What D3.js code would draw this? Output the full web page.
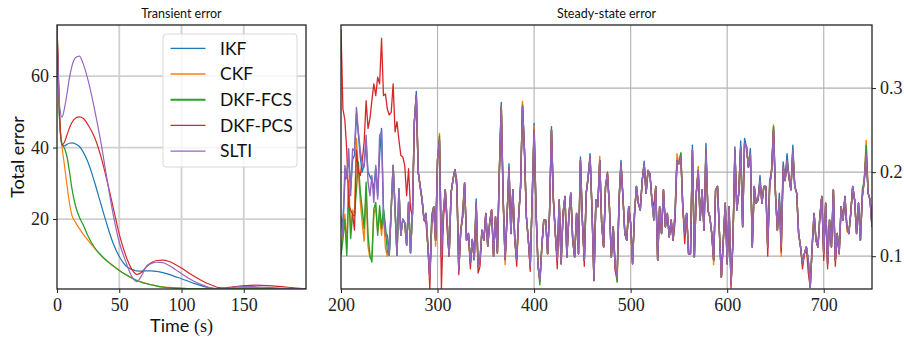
<!DOCTYPE html>
<html>
<head>
<meta charset="utf-8">
<script src="https://cdn.jsdelivr.net/npm/d3@7"></script>
<style>
  body { margin: 0; background: #fff; }
  svg { display: block; }
</style>
</head>
<body>
<svg id="chart" width="904" height="341"></svg>
<script>
const SANS = "Lato, 'DejaVu Sans', sans-serif";
const SERIF = "'Liberation Serif', 'DejaVu Serif', serif";

// ---- series ----
const seriesNames = ["IKF", "CKF", "DKF-FCS", "DKF-PCS", "SLTI"];
const seriesColors = ["#1f77b4", "#ff7f0e", "#2ca02c", "#d62728", "#9467bd"];

// ---- transient phase (0-200 s) ----
const transientTime = [0, 2, 4, 6, 8, 10, 12, 15, 18, 21, 25, 30, 35, 40, 45, 50, 55, 60,
  64, 68, 72, 76, 80, 85, 90, 95, 100, 105, 110, 115, 120, 125, 130, 135, 140, 145, 150,
  155, 160, 170, 180, 190, 200];
const transientIKF = [74.5, 48, 40.6, 40.5, 40.9, 41.2, 41.3, 41.0, 40.3, 38.8, 35.8, 30.5,
  24.5, 18.6, 13.3, 9.5, 7.0, 5.9, 5.5, 5.45, 5.5, 5.5, 5.35, 5.0, 4.5, 3.9, 3.3, 2.65, 2.0,
  1.45, 0.95, 0.6, 0.45, 0.45, 0.55, 0.65, 0.72, 0.75, 0.74, 0.65, 0.55, 0.46, 0.42];
const transientCKF = [74.5, 49, 40.5, 35.0, 29.5, 24.5, 21.0, 19.0, 17.3, 15.8, 14.0, 11.9,
  9.9, 8.3, 6.9, 5.6, 4.5, 3.5, 2.85, 2.35, 1.95, 1.6, 1.3, 1.0, 0.85, 0.72, 0.62, 0.55, 0.5,
  0.46, 0.44, 0.43, 0.42, 0.42, 0.42, 0.42, 0.42, 0.42, 0.42, 0.42, 0.42, 0.42, 0.42];
const transientFCS = [74.5, 49, 41.0, 39.8, 37.5, 33.3, 28.5, 23.5, 20.5, 18.4, 15.2, 12.1,
  10.0, 8.3, 6.9, 5.6, 4.5, 3.5, 2.8, 2.3, 1.9, 1.55, 1.25, 0.95, 0.8, 0.68, 0.6, 0.52, 0.48,
  0.45, 0.43, 0.42, 0.42, 0.42, 0.42, 0.42, 0.42, 0.42, 0.42, 0.42, 0.42, 0.42, 0.42];
const transientPCS = [74.5, 50, 40.8, 41.5, 43.5, 45.5, 47.0, 48.3, 48.6, 48.2, 46.3, 43.0,
  37.8, 31.0, 23.4, 15.8, 10.0, 6.0, 4.5, 5.1, 6.7, 7.8, 8.4, 8.5, 8.1, 7.3, 6.3, 5.1, 4.0,
  3.0, 2.1, 1.4, 0.8, 0.75, 0.95, 1.15, 1.35, 1.45, 1.5, 1.35, 1.1, 0.75, 0.45];
const transientSLTI = [74.5, 52, 48.5, 51.0, 55.0, 59.5, 62.8, 65.2, 65.6, 63.5, 58.8, 51.0,
  42.0, 31.5, 21.5, 13.5, 8.3, 4.0, 2.5, 4.2, 6.9, 7.6, 7.9, 7.8, 7.0, 5.9, 4.7, 3.6, 2.6,
  1.8, 1.1, 0.65, 0.45, 0.55, 0.8, 1.0, 1.1, 1.1, 1.05, 0.85, 0.6, 0.45, 0.42];

// ---- steady-state phase (200-750 s, one sample every 2 s) ----
const steadyStart = 200, steadyStep = 2;
const steadySLTI = [
  0.148, 0.125, 0.208, 0.192, 0.228, 0.172, 0.228, 0.225, 0.277, 0.248,
  0.225, 0.208, 0.206, 0.244, 0.188, 0.172, 0.196, 0.164, 0.208, 0.168,
  0.244, 0.248, 0.148, 0.125, 0.121, 0.101, 0.156, 0.208, 0.156, 0.101,
  0.180, 0.125, 0.144, 0.140, 0.113, 0.164, 0.104, 0.151, 0.260, 0.291,
  0.200, 0.183, 0.167, 0.143, 0.151, 0.112, 0.075, 0.140, 0.159, 0.119,
  0.215, 0.238, 0.100, 0.151, 0.179, 0.140, 0.100, 0.175, 0.191, 0.203,
  0.183, 0.084, 0.130, 0.147, 0.187, 0.119, 0.127, 0.092, 0.120, 0.096,
  0.163, 0.088, 0.096, 0.131, 0.119, 0.151, 0.112, 0.140, 0.155, 0.100,
  0.147, 0.104, 0.200, 0.278, 0.167, 0.096, 0.147, 0.205, 0.127, 0.179,
  0.120, 0.096, 0.147, 0.183, 0.278, 0.227, 0.147, 0.120, 0.088, 0.167,
  0.250, 0.155, 0.090, 0.071, 0.111, 0.143, 0.143, 0.103, 0.151, 0.250,
  0.167, 0.127, 0.095, 0.167, 0.091, 0.151, 0.171, 0.099, 0.147, 0.175,
  0.120, 0.099, 0.151, 0.103, 0.214, 0.143, 0.095, 0.175, 0.194, 0.218,
  0.155, 0.071, 0.167, 0.159, 0.214, 0.139, 0.111, 0.183, 0.198, 0.159,
  0.099, 0.135, 0.087, 0.075, 0.167, 0.210, 0.171, 0.127, 0.119, 0.159,
  0.139, 0.091, 0.150, 0.183, 0.163, 0.155, 0.190, 0.210, 0.175, 0.202,
  0.198, 0.167, 0.143, 0.183, 0.095, 0.159, 0.127, 0.179, 0.135, 0.151,
  0.123, 0.143, 0.119, 0.151, 0.214, 0.210, 0.218, 0.159, 0.127, 0.151,
  0.103, 0.103, 0.226, 0.099, 0.175, 0.202, 0.143, 0.179, 0.131, 0.226,
  0.155, 0.147, 0.127, 0.095, 0.179, 0.183, 0.127, 0.075, 0.119, 0.163,
  0.091, 0.159, 0.067, 0.119, 0.226, 0.155, 0.175, 0.230, 0.135, 0.234,
  0.230, 0.206, 0.222, 0.111, 0.183, 0.163, 0.167, 0.190, 0.163, 0.183,
  0.183, 0.111, 0.183, 0.202, 0.250, 0.175, 0.131, 0.167, 0.111, 0.206,
  0.190, 0.214, 0.194, 0.179, 0.226, 0.183, 0.175, 0.127, 0.111, 0.091,
  0.103, 0.111, 0.095, 0.063, 0.111, 0.151, 0.119, 0.111, 0.147, 0.171,
  0.103, 0.163, 0.091, 0.143, 0.111, 0.179, 0.095, 0.127, 0.103, 0.159,
  0.143, 0.171, 0.135, 0.127, 0.151, 0.183, 0.167, 0.127, 0.163, 0.119,
  0.171, 0.190, 0.222, 0.175, 0.167, 0.135
];
// Opening samples of the other filters (from 200 s), before they settle onto SLTI
const steadyEarlyIKF = [0.145, 0.14, 0.19, 0.2, 0.215, 0.18, 0.215, 0.22, 0.27, 0.245,
  0.218, 0.2, 0.21, 0.236, 0.2, 0.195, 0.19, 0.18, 0.205, 0.172, 0.22, 0.252, 0.155, 0.128,
  0.125, 0.105];
const steadyEarlyCKF = [0.105, 0.13, 0.15, 0.11, 0.19, 0.13, 0.155, 0.15, 0.24, 0.2, 0.165,
  0.14, 0.118, 0.175, 0.112, 0.098, 0.1, 0.15, 0.158, 0.13, 0.15, 0.125, 0.15, 0.11, 0.1,
  0.105];
const steadyEarlyFCS = [0.101, 0.12, 0.144, 0.101, 0.18, 0.121, 0.15, 0.148, 0.18, 0.212,
  0.176, 0.156, 0.133, 0.188, 0.125, 0.101, 0.093, 0.156, 0.164, 0.125, 0.16, 0.133, 0.156,
  0.137, 0.105, 0.101];
const steadyEarlyPCS = [0.37, 0.275, 0.262, 0.225, 0.16, 0.155, 0.15, 0.131, 0.226, 0.2,
  0.196, 0.214, 0.236, 0.285, 0.252, 0.264, 0.285, 0.305, 0.291, 0.313, 0.305, 0.359, 0.291,
  0.293, 0.275, 0.268, 0.271, 0.305, 0.248, 0.26, 0.238, 0.22, 0.218, 0.208, 0.172, 0.204,
  0.156, 0.148];
// Later samples (time -> value) where a filter departs from SLTI
const steadyIKFDiffs = {278: 0.296, 320: 0.19, 340: 0.168, 366: 0.283, 374: 0.21, 388: 0.281,
  400: 0.258, 418: 0.254, 448: 0.218, 458: 0.222, 490: 0.214, 514: 0.213, 552: 0.222,
  564: 0.232, 578: 0.234, 608: 0.23, 614: 0.237, 618: 0.24, 624: 0.228, 634: 0.196,
  644: 0.19, 648: 0.253, 654: 0.175, 656: 0.125, 658: 0.212, 662: 0.222, 668: 0.232,
  744: 0.226};
const steadyCKFDiffs = {298: 0.112, 302: 0.246, 326: 0.155, 370: 0.09, 388: 0.284, 400: 0.255,
  468: 0.219, 486: 0.071, 548: 0.222, 570: 0.207, 586: 0.09, 648: 0.256, 656: 0.1,
  724: 0.13, 744: 0.238};
const steadyFCSDiffs = {294: 0.15, 302: 0.243, 388: 0.279, 406: 0.066, 486: 0.069,
  552: 0.223, 648: 0.254, 740: 0.18, 744: 0.232};
const steadyPCSDiffs = {288: 0.14, 292: 0.061, 304: 0.061, 306: 0.14, 310: 0.13, 322: 0.078,
  334: 0.085, 342: 0.08, 344: 0.088, 382: 0.088, 396: 0.082, 424: 0.085, 452: 0.088,
  476: 0.2, 484: 0.082, 524: 0.16, 546: 0.14, 556: 0.115, 604: 0.062, 642: 0.1, 656: 0.105,
  678: 0.085, 684: 0.08, 700: 0.095, 704: 0.085, 712: 0.088};

// ---- tick labels ----
const transientXTicks = [0, 50, 100, 150];
const transientYTicks = [20, 40, 60];
const steadyXTicks = [200, 300, 400, 500, 600, 700];
const steadyYTicks = [0.1, 0.2, 0.3];

// ---- assemble records ----
const transientData = [transientIKF, transientCKF, transientFCS, transientPCS, transientSLTI]
  .map(vals => vals.map((v, i) => ({t: transientTime[i], v})));

function steadySeries(early, diffs) {
  return steadySLTI.map((base, i) => {
    const t = steadyStart + i * steadyStep;
    if (i < early.length) return {t, v: early[i]};
    if (diffs[t] !== undefined) return {t, v: diffs[t]};
    return {t, v: base};
  });
}
const steadyData = [
  steadySeries(steadyEarlyIKF, steadyIKFDiffs),
  steadySeries(steadyEarlyCKF, steadyCKFDiffs),
  steadySeries(steadyEarlyFCS, steadyFCSDiffs),
  steadySeries(steadyEarlyPCS, steadyPCSDiffs),
  steadySeries([], {})
];

// ---- layout ----
const svg = d3.select("#chart");
const L = {x0: 57, x1: 306, y0: 25, y1: 289};
const R = {x0: 341, x1: 872, y0: 25, y1: 289};

const xL = d3.scaleLinear().domain([0, 200]).range([L.x0, L.x1]);
const yL = d3.scaleLinear().domain([0.42, 74.3]).range([L.y1, L.y0]);
const xR = d3.scaleLinear().domain([200, 750]).range([R.x0, R.x1]);
const yR = d3.scaleLinear().domain([0.061, 0.375]).range([R.y1, R.y0]);

const defs = svg.append("defs");
defs.append("clipPath").attr("id", "clipL").append("rect")
  .attr("x", L.x0).attr("y", L.y0).attr("width", L.x1 - L.x0).attr("height", L.y1 - L.y0);
defs.append("clipPath").attr("id", "clipR").append("rect")
  .attr("x", R.x0).attr("y", R.y0).attr("width", R.x1 - R.x0).attr("height", R.y1 - R.y0);

// ---- grids ----
const gL = svg.append("g");
gL.selectAll("line.gx").data(transientXTicks.filter(d => d > 0)).join("line")
  .attr("x1", d => xL(d)).attr("x2", d => xL(d)).attr("y1", L.y0).attr("y2", L.y1)
  .attr("stroke", "#d0d0d0").attr("stroke-width", 1.8);
gL.selectAll("line.gy").data(transientYTicks).join("line")
  .attr("x1", L.x0).attr("x2", L.x1).attr("y1", d => yL(d)).attr("y2", d => yL(d))
  .attr("stroke", "#d0d0d0").attr("stroke-width", 1.8);

const gR = svg.append("g");
gR.selectAll("line.gx").data(steadyXTicks.filter(d => d > 200)).join("line")
  .attr("x1", d => xR(d)).attr("x2", d => xR(d)).attr("y1", R.y0).attr("y2", R.y1)
  .attr("stroke", "#b8b8b8").attr("stroke-width", 1.2);
gR.selectAll("line.gy").data(steadyYTicks).join("line")
  .attr("x1", R.x0).attr("x2", R.x1).attr("y1", d => yR(d)).attr("y2", d => yR(d))
  .attr("stroke", "#b0b0b0").attr("stroke-width", 1.2);

// ---- lines ----
const lineL = d3.line().x(d => xL(d.t)).y(d => yL(d.v)).curve(d3.curveMonotoneX);
const lineR = d3.line().x(d => xR(d.t)).y(d => yR(d.v));
const widthsL = [1.2, 1.2, 1.3, 1.2, 1.2];
const widthsR = [1.4, 1.4, 1.4, 1.3, 1.4];

svg.append("g").attr("clip-path", "url(#clipL)")
  .selectAll("path").data(transientData).join("path")
  .attr("d", lineL).attr("fill", "none")
  .attr("stroke", (d, i) => seriesColors[i]).attr("stroke-width", (d, i) => widthsL[i]);

svg.append("g").attr("clip-path", "url(#clipR)")
  .selectAll("path").data(steadyData).join("path")
  .attr("d", lineR).attr("fill", "none")
  .attr("stroke", (d, i) => seriesColors[i]).attr("stroke-width", (d, i) => widthsR[i])
  .attr("stroke-linejoin", "round");

// ---- axes ----
function styleAxis(g) {
  g.attr("font-family", SERIF).attr("font-size", 18);
  g.select(".domain").remove();
  g.selectAll(".tick line").attr("stroke", "#222").attr("stroke-width", 1);
  g.selectAll(".tick text").attr("font-family", SERIF).attr("font-size", 18).attr("fill", "#222");
}
svg.append("g").attr("transform", `translate(0,${L.y1})`)
  .call(d3.axisBottom(xL).tickValues(transientXTicks).tickFormat(d3.format("d"))
    .tickSize(4).tickPadding(5))
  .call(styleAxis);
svg.append("g").attr("transform", `translate(${L.x0},0)`)
  .call(d3.axisLeft(yL).tickValues(transientYTicks).tickFormat(d3.format("d"))
    .tickSize(4).tickPadding(4))
  .call(styleAxis);
svg.append("g").attr("transform", `translate(0,${R.y1})`)
  .call(d3.axisBottom(xR).tickValues(steadyXTicks).tickFormat(d3.format("d"))
    .tickSize(4).tickPadding(5))
  .call(styleAxis);
svg.append("g").attr("transform", `translate(${R.x1},0)`)
  .call(d3.axisRight(yR).tickValues(steadyYTicks).tickFormat(d3.format(".1f"))
    .tickSize(4).tickPadding(4))
  .call(styleAxis);

// ---- spines ----
[L, R].forEach(a => {
  svg.append("rect").attr("x", a.x0).attr("y", a.y0)
    .attr("width", a.x1 - a.x0).attr("height", a.y1 - a.y0)
    .attr("fill", "none").attr("stroke", "#222").attr("stroke-width", 1.3);
});

// ---- titles and labels ----
svg.append("text").attr("font-family", SANS).attr("x", (L.x0 + L.x1) / 2).attr("y", 18)
  .attr("text-anchor", "middle").attr("font-size", 12.5).attr("fill", "#111")
  .text("Transient error");
svg.append("text").attr("font-family", SANS).attr("x", (R.x0 + R.x1) / 2).attr("y", 18)
  .attr("text-anchor", "middle").attr("font-size", 12.5).attr("fill", "#111")
  .text("Steady-state error");

svg.append("text").attr("font-family", SANS)
  .attr("transform", `translate(24,${(L.y0 + L.y1) / 2}) rotate(-90)`)
  .attr("text-anchor", "middle").attr("font-size", 18).attr("fill", "#111")
  .text("Total error");

const xlab = svg.append("text").attr("x", (L.x0 + L.x1) / 2).attr("y", 332)
  .attr("text-anchor", "middle").attr("font-size", 18).attr("fill", "#111");
xlab.append("tspan").attr("font-family", SANS).text("Time ");
xlab.append("tspan").attr("font-family", SERIF).text("(s)");

// ---- legend ----
const leg = svg.append("g");
leg.append("rect").attr("x", 163).attr("y", 34).attr("width", 134).attr("height", 133)
  .attr("rx", 3).attr("fill", "#fff").attr("fill-opacity", 0.8)
  .attr("stroke", "#d8d8d8").attr("stroke-width", 1);
seriesNames.forEach((name, i) => {
  const y = 48.3 + i * 25.7;
  leg.append("line").attr("x1", 170.5).attr("x2", 205.5).attr("y1", y).attr("y2", y)
    .attr("stroke", seriesColors[i]).attr("stroke-width", i === 2 ? 2 : 1.3);
  leg.append("text").attr("font-family", SANS).attr("x", 220).attr("y", y + 6.3)
    .attr("font-size", 17.5).attr("fill", "#111").text(name);
});
</script>
</body>
</html>
